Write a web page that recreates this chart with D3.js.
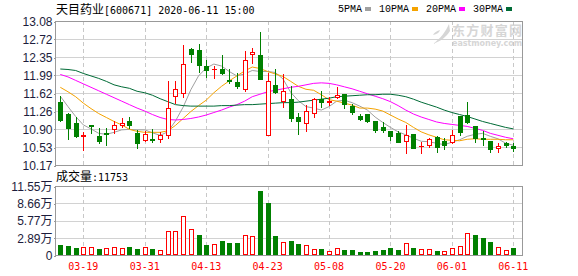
<!DOCTYPE html>
<meta charset="utf-8">
<style>
body { margin: 0; background: #fff; }
svg { display: block; }
.hgrid { stroke: #d2d2d2; shape-rendering: crispEdges; }
.vgrid { stroke: #c8c8c8; stroke-dasharray: 4,3; shape-rendering: crispEdges; }
.frame { fill: none; stroke: #999; shape-rendering: crispEdges; }
.axis text { font: 12px "Liberation Sans", "Noto Sans CJK SC", sans-serif; fill: #1c1c3c; }
.axis line { stroke: #999; shape-rendering: crispEdges; }
.axis path { display: none; }
.date-label { font: 10px "DejaVu Sans Mono", monospace; fill: #f00; }
.ma { fill: none; stroke-width: 1px; }
</style>

<svg id="chart" width="578" height="276"></svg>

<script src="https://cdn.jsdelivr.net/npm/d3@7/dist/d3.min.js"></script>
<script>
var stockName = "天目药业", stockCode = "600671", stamp = "2020-06-11 15:00";
var lastVolume = 11753;

var dates = ["03-16","03-17","03-18","03-19","03-20","03-23","03-24","03-25","03-26","03-27",
  "03-30","03-31","04-01","04-02","04-03","04-07","04-08","04-09","04-10","04-13",
  "04-14","04-15","04-16","04-17","04-20","04-21","04-22","04-23","04-24","04-27",
  "04-28","04-29","04-30","05-06","05-07","05-08","05-11","05-12","05-13","05-14",
  "05-15","05-18","05-19","05-20","05-21","05-22","05-25","05-26","05-27","05-28",
  "05-29","06-01","06-02","06-03","06-04","06-05","06-08","06-09","06-10","06-11"];

var open = [11.45,11.21,11.02,10.75,10.97,10.76,10.81,10.89,10.97,11.05,
  10.82,10.68,10.70,10.70,10.78,11.57,11.62,12.52,12.50,12.17,
  12.10,12.10,11.89,11.84,11.71,12.42,12.40,10.78,11.78,11.47,
  11.51,11.13,11.02,11.22,11.51,11.45,11.54,11.61,11.37,11.17,
  11.20,11.06,10.94,10.86,10.81,10.66,10.80,10.55,10.57,10.74,
  10.66,10.64,11.16,11.18,10.96,10.72,10.66,10.52,10.62,10.56];
var high = [11.57,11.22,11.13,10.84,10.98,10.91,10.91,11.06,11.11,11.13,
  10.87,10.85,10.90,10.83,11.87,11.86,12.59,12.53,12.61,12.30,
  12.18,12.40,12.11,12.02,12.47,12.53,12.86,12.03,12.10,12.00,
  11.76,11.22,11.38,11.52,11.66,11.54,11.74,11.61,11.40,11.20,
  11.20,11.06,11.03,10.86,10.85,10.98,10.80,10.64,10.72,10.76,
  10.71,10.88,11.16,11.45,10.96,10.85,10.66,10.62,10.64,10.61];
var low = [11.06,10.69,10.73,10.47,10.81,10.62,10.58,10.81,10.93,10.91,
  10.52,10.66,10.63,10.63,10.71,11.42,11.54,12.25,12.04,11.94,
  11.92,12.00,11.83,11.72,11.66,12.24,11.90,10.78,11.62,11.35,
  11.06,10.80,10.85,11.15,11.34,11.39,11.52,11.33,11.20,11.08,
  11.04,10.83,10.83,10.68,10.64,10.42,10.52,10.42,10.53,10.44,
  10.50,10.62,10.78,11.02,10.64,10.58,10.44,10.44,10.53,10.46];
var close = [11.08,10.91,10.76,10.77,10.96,10.66,10.80,10.98,11.02,10.97,
  10.62,10.80,10.68,10.78,11.32,11.71,12.21,12.42,12.20,12.09,
  12.11,12.03,11.87,11.76,12.30,12.46,11.91,11.87,11.64,11.66,
  11.11,11.05,11.27,11.50,11.45,11.47,11.59,11.41,11.25,11.10,
  11.06,10.88,10.87,10.75,10.64,10.77,10.52,10.56,10.69,10.53,
  10.58,10.77,10.83,11.03,10.72,10.69,10.49,10.56,10.58,10.51];
var prevClose = 11.50;

var ma5 = [11.56,11.35,11.15,10.98,10.90,10.81,10.79,10.83,10.88,10.89,
  10.88,10.88,10.82,10.77,10.84,11.06,11.34,11.69,11.97,12.13,
  12.21,12.17,12.06,11.97,12.01,12.08,12.06,12.06,12.04,11.91,
  11.64,11.47,11.35,11.32,11.28,11.35,11.46,11.48,11.43,11.36,
  11.28,11.14,11.03,10.93,10.84,10.78,10.71,10.65,10.64,10.61,
  10.58,10.63,10.68,10.75,10.79,10.81,10.75,10.70,10.61,10.57];
var ma10 = [11.74,11.65,11.55,11.42,11.31,11.21,11.13,11.05,10.98,10.89,
  10.85,10.83,10.83,10.83,10.86,10.97,11.11,11.25,11.37,11.48,
  11.63,11.76,11.87,11.97,12.07,12.15,12.12,12.06,12.01,11.96,
  11.86,11.76,11.70,11.68,11.59,11.49,11.46,11.42,11.38,11.32,
  11.32,11.30,11.26,11.18,11.10,11.03,10.93,10.84,10.78,10.73,
  10.68,10.67,10.66,10.69,10.70,10.69,10.69,10.69,10.68,10.68];
var ma20 = [12.00,11.95,11.88,11.81,11.74,11.67,11.60,11.53,11.46,11.39,
  11.32,11.26,11.19,11.13,11.09,11.08,11.09,11.11,11.14,11.18,
  11.23,11.28,11.34,11.39,11.46,11.55,11.60,11.65,11.68,11.71,
  11.74,11.76,11.79,11.82,11.83,11.82,11.79,11.75,11.71,11.66,
  11.61,11.56,11.51,11.45,11.37,11.28,11.20,11.14,11.09,11.04,
  11.01,10.99,10.97,10.95,10.91,10.87,10.81,10.77,10.73,10.70];
var ma30 = [12.11,12.10,12.08,12.02,11.97,11.92,11.86,11.79,11.75,11.72,
  11.66,11.63,11.58,11.51,11.45,11.39,11.37,11.36,11.36,11.36,
  11.36,11.37,11.37,11.38,11.39,11.39,11.40,11.41,11.42,11.43,
  11.43,11.44,11.46,11.48,11.50,11.52,11.55,11.56,11.57,11.58,
  11.59,11.59,11.60,11.60,11.58,11.55,11.50,11.44,11.39,11.34,
  11.28,11.23,11.19,11.15,11.10,11.05,11.01,10.97,10.93,10.90];

// volume in 万手
var volume = [1.75,1.58,1.24,1.41,1.30,1.07,1.24,1.41,1.24,1.41,
  1.08,1.36,1.08,0.92,4.04,4.04,6.55,4.38,3.37,1.75,
  1.87,2.26,2.09,2.09,3.32,3.20,10.75,8.67,3.26,2.20,
  2.42,1.92,1.70,1.03,1.03,0.69,1.20,0.92,0.92,0.58,
  0.58,0.75,0.92,1.25,0.92,2.03,1.25,1.03,1.03,0.75,
  0.67,1.23,1.51,3.68,3.35,2.90,2.23,1.34,0.84,1.1753];

var priceTicks = [13.08, 12.72, 12.35, 11.99, 11.62, 11.26, 10.90, 10.53, 10.17];
var volTicks = [0, 2.89, 5.77, 8.66, 11.55];
var maNames = ["5PMA", "10PMA", "20PMA", "30PMA"];
var maColors = ["#a0a0a0", "#f5a300", "#ff00ff", "#006b36"];

var RED = "#ff0000", GREEN = "#008000";

var svg = d3.select("#chart"),
    left = 55, right = 522,
    priceTop = 21, priceBottom = 165,
    volTop = 186, volBottom = 255;

var x = d3.scalePoint().domain(d3.range(dates.length)).range([left + 5.3, right - 8.7]);
var y = d3.scaleLinear().domain([10.17, 13.08]).range([priceBottom, priceTop]);
var yv = d3.scaleLinear().domain([0, 11.55]).range([volBottom, volTop]);

// watermark
var wm = svg.append("g").attr("fill", "#d6d6d6");
wm.append("path")
    .attr("d", "M449,24 C446,31 441,38 433,44 C441,41 446,37 450,31 Z M440,30 C436,31 434,33 433,35 C437,34 439,33 440,30 Z");
wm.append("text")
    .attr("x", 452).attr("y", 35)
    .style("font", "bold 13px 'Noto Sans CJK SC', sans-serif")
    .attr("textLength", 70)
    .text("东方财富网");
wm.append("text")
    .attr("x", 452).attr("y", 46)
    .style("font", "bold 8px 'DejaVu Sans', sans-serif")
    .attr("textLength", 70)
    .text("eastmoney.com");

// horizontal grid
svg.append("g").selectAll("line")
  .data(priceTicks)
  .join("line")
    .attr("class", "hgrid")
    .attr("x1", left).attr("x2", right)
    .attr("y1", function(d) { return Math.round(y(d)) + 0.5; })
    .attr("y2", function(d) { return Math.round(y(d)) + 0.5; });

svg.append("g").selectAll("line")
  .data(volTicks)
  .join("line")
    .attr("class", "hgrid")
    .attr("x1", left).attr("x2", right)
    .attr("y1", function(d) { return Math.round(yv(d)) + 0.5; })
    .attr("y2", function(d) { return Math.round(yv(d)) + 0.5; });

// date ticks every 8 sessions
var tickIdx = d3.range(dates.length).filter(function(i) { return i % 8 === 3; });

var vg = svg.append("g");
tickIdx.forEach(function(i) {
  var xx = Math.round(x(i)) + 0.5;
  vg.append("line").attr("class", "vgrid")
      .attr("x1", xx).attr("x2", xx).attr("y1", priceTop).attr("y2", priceBottom);
  vg.append("line").attr("class", "vgrid")
      .attr("x1", xx).attr("x2", xx).attr("y1", volTop).attr("y2", volBottom);
});

svg.append("g").selectAll("text")
  .data(tickIdx)
  .join("text")
    .attr("class", "date-label")
    .attr("x", function(i) { return x(i); })
    .attr("y", 270)
    .attr("text-anchor", "middle")
    .text(function(i) { return dates[i]; });

// moving averages
var line = d3.line()
    .x(function(d, i) { return x(i); })
    .y(function(d) { return y(d); });

svg.append("g").selectAll("path")
  .data([ma5, ma10, ma20, ma30])
  .join("path")
    .attr("class", "ma")
    .attr("stroke", function(d, k) { return maColors[k]; })
    .attr("d", line);

// candles
var cg = svg.append("g").style("shape-rendering", "crispEdges");
d3.range(dates.length).forEach(function(i) {
  var cx = Math.round(x(i)),
      up = close[i] >= open[i],
      col = up ? RED : GREEN,
      yTop = Math.round(y(Math.max(open[i], close[i]))),
      yBot = Math.round(y(Math.min(open[i], close[i]))),
      yHi = Math.round(y(high[i])),
      yLo = Math.round(y(low[i]));

  cg.append("line")
      .attr("x1", cx + 0.5).attr("x2", cx + 0.5)
      .attr("y1", yHi).attr("y2", yLo + 1)
      .attr("stroke", col);

  if (yBot - yTop < 1) {
    cg.append("line")
        .attr("x1", cx - 2).attr("x2", cx + 3)
        .attr("y1", yTop + 0.5).attr("y2", yTop + 0.5)
        .attr("stroke", col);
  } else if (up) {
    cg.append("rect")
        .attr("x", cx - 1.5).attr("y", yTop + 0.5)
        .attr("width", 4).attr("height", yBot - yTop)
        .attr("fill", "#fff").attr("stroke", col);
  } else {
    cg.append("rect")
        .attr("x", cx - 2).attr("y", yTop)
        .attr("width", 5).attr("height", yBot - yTop + 1)
        .attr("fill", col);
  }
});

// volume bars, coloured against the previous close
var bg = svg.append("g").style("shape-rendering", "crispEdges");
volume.forEach(function(v, i) {
  var cx = Math.round(x(i)),
      pc = i ? close[i - 1] : prevClose,
      up = close[i] >= pc,
      yt = Math.round(yv(v));
  if (up) {
    bg.append("rect")
        .attr("x", cx - 1.5).attr("y", yt + 0.5)
        .attr("width", 4).attr("height", volBottom - yt - 1)
        .attr("fill", "#fff").attr("stroke", RED);
  } else {
    bg.append("rect")
        .attr("x", cx - 2).attr("y", yt)
        .attr("width", 5).attr("height", volBottom - yt)
        .attr("fill", GREEN);
  }
});

// frames
svg.append("rect").attr("class", "frame")
    .attr("x", left + 0.5).attr("y", priceTop + 0.5)
    .attr("width", right - left).attr("height", priceBottom - priceTop);
svg.append("rect").attr("class", "frame")
    .attr("x", left + 0.5).attr("y", volTop + 0.5)
    .attr("width", right - left).attr("height", volBottom - volTop);

// axes
svg.append("g")
    .attr("class", "axis")
    .attr("transform", "translate(" + (left + 0.5) + ",0.5)")
    .call(d3.axisLeft(y).tickValues(priceTicks).tickSize(2).tickPadding(1).tickFormat(d3.format(".2f")));

svg.append("g")
    .attr("class", "axis")
    .attr("transform", "translate(" + (left + 0.5) + ",0.5)")
    .call(d3.axisLeft(yv).tickValues(volTicks).tickSize(2).tickPadding(1)
      .tickFormat(function(d) { return d === 0 ? "0" : d3.format(".2f")(d) + "万"; }));

// title
var title = svg.append("text").attr("x", 56).attr("y", 14).attr("fill", "#000");
title.append("tspan")
    .style("font", "12px 'Noto Sans CJK SC', sans-serif")
    .text(stockName);
title.append("tspan")
    .style("font", "10px 'DejaVu Sans Mono', monospace")
    .text("[" + stockCode + "] " + stamp);

// volume caption
var vt = svg.append("text").attr("x", 56).attr("y", 181).attr("fill", "#000");
vt.append("tspan")
    .style("font", "12px 'Noto Sans CJK SC', sans-serif")
    .text("成交量");
vt.append("tspan")
    .style("font", "10px 'DejaVu Sans Mono', monospace")
    .text(":" + lastVolume);

// legend
var lx = 338;
maNames.forEach(function(name, k) {
  var t = svg.append("text")
      .attr("x", lx).attr("y", 12)
      .style("font", "10px 'Liberation Mono', monospace")
      .attr("fill", "#000")
      .text(name);
  var w = t.node().getComputedTextLength();
  svg.append("rect")
      .attr("x", Math.round(lx + w + 3)).attr("y", 7)
      .attr("width", 6).attr("height", 4)
      .attr("fill", maColors[k]);
  lx = Math.round(lx + w + 3 + 6 + 8);
});
</script>
